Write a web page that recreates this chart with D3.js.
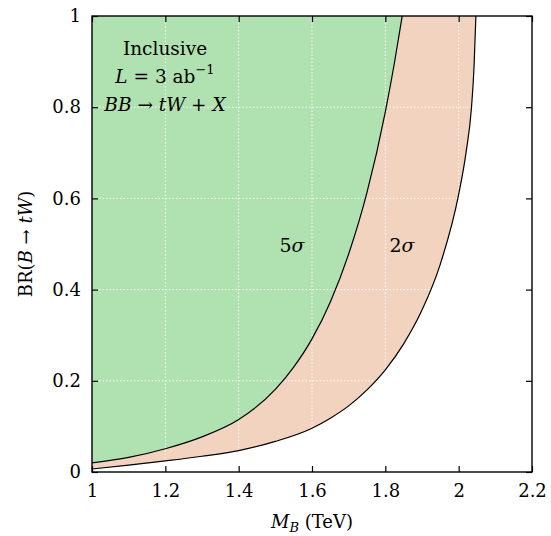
<!DOCTYPE html>
<html>
<head>
<meta charset="utf-8">
<script src="https://cdn.jsdelivr.net/npm/d3@7"></script>
<style>
  html, body { margin: 0; padding: 0; background: #fff; }
  svg { display: block; }
</style>
</head>
<body>
<svg id="chart" width="551" height="536"></svg>
<script>
// Reach contours in the (M_B, BR) plane
const mass5 = [1.00, 1.10, 1.20, 1.30, 1.40, 1.50, 1.55, 1.60, 1.65, 1.70, 1.75, 1.80, 1.825, 1.846];
const br5   = [0.020, 0.032, 0.051, 0.077, 0.115, 0.181, 0.230, 0.292, 0.373, 0.478, 0.613, 0.790, 0.898, 1.000];

const mass2 = [1.00, 1.10, 1.20, 1.30, 1.40, 1.50, 1.60, 1.65, 1.70, 1.75, 1.80, 1.85, 1.90, 1.95, 2.00, 2.02, 2.035, 2.042, 2.047];
const br2   = [0.0066, 0.0150, 0.0243, 0.0345, 0.0470, 0.067, 0.096, 0.118, 0.145, 0.180, 0.224, 0.281, 0.355, 0.456, 0.609, 0.700, 0.800, 0.890, 1.000];

const xTicks = [1, 1.2, 1.4, 1.6, 1.8, 2, 2.2];
const yTicks = [0, 0.2, 0.4, 0.6, 0.8, 1];

const serif = "DejaVu Serif";

const svg = d3.select("#chart").attr("font-family", serif);
const pLeft = 92, pRight = 532, pTop = 16, pBottom = 472;

const x = d3.scaleLinear().domain([1, 2.2]).range([pLeft, pRight]);
const y = d3.scaleLinear().domain([0, 1]).range([pBottom, pTop]);

svg.append("defs").append("clipPath").attr("id", "plotClip")
  .append("rect").attr("x", pLeft).attr("y", pTop)
  .attr("width", pRight - pLeft).attr("height", pBottom - pTop);

const plot = svg.append("g").attr("clip-path", "url(#plotClip)");

const pts2 = mass2.map((m, i) => [m, br2[i]]);
const pts5 = mass5.map((m, i) => [m, br5[i]]);

const area = d3.area()
  .x(d => x(d[0]))
  .y0(y(1))
  .y1(d => y(d[1]))
  .curve(d3.curveMonotoneX);

const line = d3.line()
  .x(d => x(d[0]))
  .y(d => y(d[1]))
  .curve(d3.curveMonotoneX);

// 2 sigma region (pink), then 5 sigma region (green) on top
plot.append("path").datum(pts2).attr("d", area).attr("fill", "#f2d3bf");
plot.append("path").datum(pts5).attr("d", area).attr("fill", "#b0e1b0");

// dotted white grid
const grid = plot.append("g")
  .attr("stroke", "#fff").attr("stroke-width", 1)
  .attr("stroke-dasharray", "1.5,2").attr("opacity", 0.9);
xTicks.slice(1, -1).forEach(t => {
  grid.append("line").attr("x1", x(t)).attr("x2", x(t)).attr("y1", pTop).attr("y2", pBottom);
});
yTicks.slice(1, -1).forEach(t => {
  grid.append("line").attr("x1", pLeft).attr("x2", pRight).attr("y1", y(t)).attr("y2", y(t));
});

// contour lines
plot.append("path").datum(pts2).attr("d", line)
  .attr("fill", "none").attr("stroke", "#000").attr("stroke-width", 1.2);
plot.append("path").datum(pts5).attr("d", line)
  .attr("fill", "none").attr("stroke", "#000").attr("stroke-width", 1.2);

// axes with inward ticks on all sides
const tickLen = 6;
const fmt = d => d3.format("~g")(d);
const styleAxis = g => {
  g.attr("font-family", serif).attr("font-size", 18);
  g.select(".domain").remove();
  g.selectAll("line").attr("stroke", "#000").attr("stroke-width", 1.2);
  g.selectAll("text").attr("fill", "#000").attr("font-family", serif);
};

svg.append("g").attr("transform", `translate(0,${pBottom})`)
  .call(d3.axisBottom(x).tickValues(xTicks).tickSize(-tickLen).tickFormat(fmt).tickPadding(12))
  .call(styleAxis);

svg.append("g").attr("transform", `translate(0,${pTop})`)
  .call(d3.axisTop(x).tickValues(xTicks).tickSize(-tickLen).tickFormat(""))
  .call(styleAxis);

svg.append("g").attr("transform", `translate(${pLeft},0)`)
  .call(d3.axisLeft(y).tickValues(yTicks).tickSize(-tickLen).tickFormat(fmt).tickPadding(11))
  .call(styleAxis);

svg.append("g").attr("transform", `translate(${pRight},0)`)
  .call(d3.axisRight(y).tickValues(yTicks).tickSize(-tickLen).tickFormat(""))
  .call(styleAxis);

// frame
svg.append("rect").attr("x", pLeft).attr("y", pTop)
  .attr("width", pRight - pLeft).attr("height", pBottom - pTop)
  .attr("fill", "none").attr("stroke", "#000").attr("stroke-width", 1.4);

const txt = (xx, yy, size) => svg.append("text").attr("x", xx).attr("y", yy)
  .attr("text-anchor", "middle").attr("font-size", size)
  .attr("font-family", serif).attr("fill", "#000");

// x-axis title: M_B (TeV)
const xt = txt((pLeft + pRight) / 2, 528, 18);
xt.append("tspan").attr("font-style", "italic").text("M");
xt.append("tspan").attr("font-style", "italic").attr("font-size", 13).attr("dy", 4).text("B");
xt.append("tspan").attr("dy", -4).text(" (TeV)");

// y-axis title: BR(B → tW)
const yt = txt(0, 0, 18).attr("transform", `translate(32,${(pTop + pBottom) / 2}) rotate(-90)`);
yt.append("tspan").text("BR(");
yt.append("tspan").attr("font-style", "italic").text("B");
yt.append("tspan").text(" \u2192 ");
yt.append("tspan").attr("font-style", "italic").text("tW");
yt.append("tspan").text(")");

// annotation block
const cx = 165;
txt(cx, 55, 18.5).text("Inclusive");

const l2 = txt(cx, 83, 18.5);
l2.append("tspan").attr("font-style", "italic").text("L");
l2.append("tspan").text(" = 3 ab");
l2.append("tspan").attr("font-size", 13).attr("dy", -9).text("\u22121");

const l3 = txt(cx, 111, 18.5);
l3.append("tspan").attr("font-style", "italic").text("BB");
l3.append("tspan").text(" \u2192 ");
l3.append("tspan").attr("font-style", "italic").text("tW");
l3.append("tspan").text(" + ");
l3.append("tspan").attr("font-style", "italic").text("X");

// significance labels
const s5 = txt(292, 252, 19);
s5.append("tspan").text("5");
s5.append("tspan").attr("font-style", "italic").text("\u03c3");
const s2 = txt(402, 252, 19);
s2.append("tspan").text("2");
s2.append("tspan").attr("font-style", "italic").text("\u03c3");
</script>
</body>
</html>
